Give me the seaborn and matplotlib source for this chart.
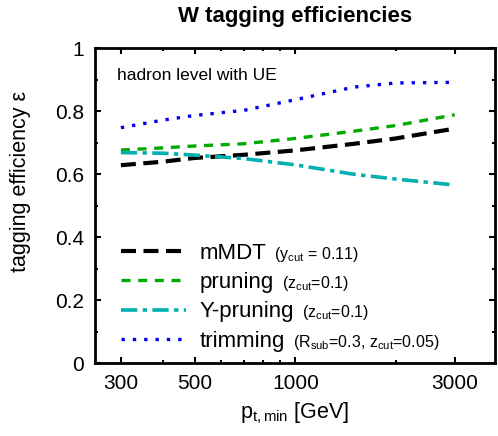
import matplotlib
matplotlib.use("Agg")
import matplotlib.pyplot as plt
import seaborn as sns
import pandas as pd
from matplotlib.ticker import FixedLocator, NullFormatter, FixedFormatter

pt = [300, 400, 500, 700, 1000, 1500, 2000, 3000]
mmdt = [0.628, 0.639, 0.651, 0.661, 0.675, 0.696, 0.713, 0.744]
pruning = [0.676, 0.683, 0.689, 0.696, 0.713, 0.736, 0.754, 0.788]
ypruning = [0.668, 0.666, 0.660, 0.649, 0.629, 0.599, 0.584, 0.565]
trimming = [0.747, 0.771, 0.786, 0.802, 0.836, 0.876, 0.889, 0.891]

names = ["mMDT", "pruning", "Y-pruning", "trimming"]
params = [r"(y$_{\rm cut}$ = 0.11)", r"(z$_{\rm cut}$=0.1)", r"(z$_{\rm cut}$=0.1)",
          r"(R$_{\rm sub}$=0.3, z$_{\rm cut}$=0.05)"]
colors = ["black", "#00aa00", "#00b0b0", "#0000ee"]
widths = [3.0, 2.4, 2.6, 2.4]
styles = [(0, (3.6, 1.8)), (0, (2.7, 2.3)), (0, (4.5, 1.5, 1.2, 1.5)), (0, (1.0, 2.4))]

sns.set_theme(style="ticks")
plt.rcParams["font.family"] = ["Liberation Sans", "DejaVu Sans"]
plt.rcParams["mathtext.fontset"] = "custom"
plt.rcParams["mathtext.rm"] = "Liberation Sans"
plt.rcParams["mathtext.it"] = "Liberation Sans"
plt.rcParams["mathtext.default"] = "regular"
plt.rcParams["text.color"] = "black"
plt.rcParams["axes.labelcolor"] = "black"

df = pd.DataFrame({"pt": pt, "mMDT": mmdt, "pruning": pruning,
                   "Y-pruning": ypruning, "trimming": trimming})

fig = plt.figure(figsize=(4.98, 4.36), dpi=100)
ax = fig.add_axes([0.1908, 0.1674, 0.803, 0.7225])

for n, c, w, s in zip(names, colors, widths, styles):
    sns.lineplot(data=df, x="pt", y=n, ax=ax, color=c, lw=w, linestyle=s, label=n)

ax.set_xscale("log")
ax.set_xlim(251, 3960)
ax.set_ylim(0, 1)
ax.xaxis.set_major_locator(FixedLocator([300, 500, 1000, 3000]))
ax.xaxis.set_major_formatter(FixedFormatter(["300", "500", "1000", "3000"]))
ax.xaxis.set_minor_locator(FixedLocator([400, 600, 700, 800, 900, 2000]))
ax.xaxis.set_minor_formatter(NullFormatter())
ax.set_yticks([0, 0.2, 0.4, 0.6, 0.8, 1.0])
ax.set_yticklabels(["0", "0.2", "0.4", "0.6", "0.8", "1"])
ax.yaxis.set_minor_locator(FixedLocator([0.1, 0.3, 0.5, 0.7, 0.9]))
ax.tick_params(which="both", direction="in", top=True, right=True, width=1.5,
               colors="black", labelsize=15, pad=8)
ax.tick_params(which="major", length=4)
ax.tick_params(which="minor", length=2.5)
for sp in ax.spines.values():
    sp.set_visible(True)
    sp.set_linewidth(2.0)
    sp.set_color("black")

ax.set_xlabel(r"p$_{\rm t,min}$ [GeV]", fontsize=15.5, labelpad=5)
ax.set_ylabel(r"tagging efficiency ε", fontsize=15.5)
ax.yaxis.set_label_coords(-0.16, 0.575)
ax.set_title("W tagging efficiencies", fontsize=16, fontweight="bold", pad=19)
ax.text(0.055, 0.935, "hadron level with UE", transform=ax.transAxes,
        fontsize=12.5, va="top", ha="left")

leg = ax.legend(loc="lower left", bbox_to_anchor=(0.043, 0.008), frameon=False,
                fontsize=16, handlelength=2.93, labelspacing=0.37,
                handletextpad=0.59, borderaxespad=0.0)

fig.canvas.draw()
renderer = fig.canvas.get_renderer()
inv = fig.transFigure.inverted()
for t, p in zip(leg.get_texts(), params):
    bb = t.get_window_extent(renderer)
    _, _, d = renderer.get_text_width_height_descent("lp", t.get_fontproperties(), ismath=False)
    x, y = inv.transform((bb.x1 + 8, bb.y0 + d))
    fig.text(x, y, p, fontsize=11.5, ha="left", va="baseline")

fig.savefig("out.png", dpi=100)
